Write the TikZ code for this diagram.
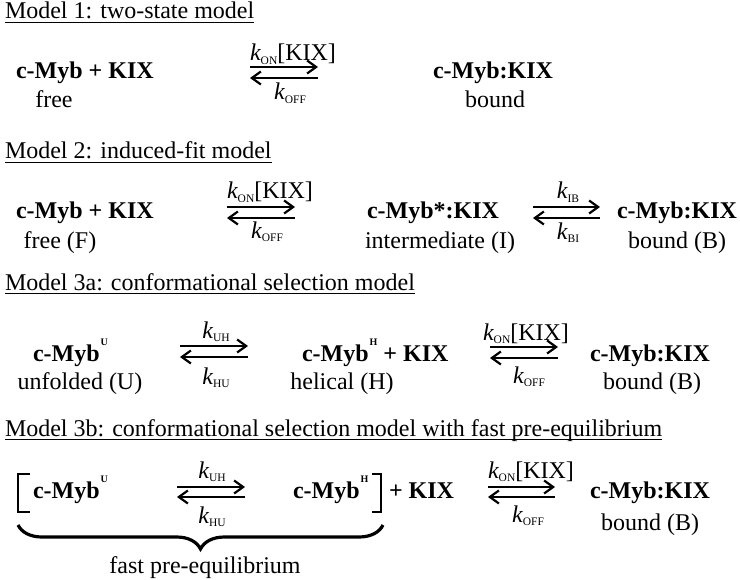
\documentclass[tikz,border=0pt]{standalone}
\usepackage{fontspec}
\setmainfont{Liberation Serif}
\usetikzlibrary{arrows.meta,decorations.pathreplacing}
\newcommand\kk[1]{\textit{k}\kern-0.3bp\raisebox{-3.5bp}{\fontsize{11.5bp}{11.5bp}\selectfont #1}}
\newcommand\sups[1]{\kern1bp\raisebox{15.5bp}{\fontsize{10bp}{10bp}\selectfont\bfseries #1}}
\begin{document}
\begin{tikzpicture}[x=1bp,y=1bp,
  every node/.style={inner sep=0pt,outer sep=0pt,font=\fontsize{24bp}{28bp}\selectfont},
  sp/.style={anchor=base west,font=\fontsize{24bp}{28bp}\selectfont\bfseries},
  st/.style={anchor=base},
  ttl/.style={anchor=base west},
  labw/.style={anchor=base west},
  labc/.style={anchor=base},
  rxn/.style={line width=2.2bp,-{Straight Barb[length=9bp,width=13bp]}},
  uline/.style={line width=1.3bp},
  brk/.style={line width=2.5bp,line join=miter}]
\useasboundingbox (0,0) rectangle (740,-580);

% ---------- Model 1 ----------
\node[ttl] (t1) at (5,-19) {Model 1: two-state model};
\node[sp] (m1a) at (16,-79) {c-Myb + KIX};
\node[st] (m1af) at (54,-108) {free};
\coordinate (m1l) at (250,-67);
\coordinate (m1r) at (318,-67);
\coordinate (m1lb) at (250,-78);
\coordinate (m1rb) at (318,-78);
\draw[rxn] (m1l) -- (m1r);
\draw[rxn] (m1rb) -- (m1lb);
\node[labw] (m1k1) at (250,-61) {\kk{ON}[KIX]};
\node[labc] (m1k2) at (290,-100) {\kk{OFF}};
\node[sp] (m1b) at (433,-79) {c-Myb:KIX};
\node[st] (m1bf) at (495,-108) {bound};

% ---------- Model 2 ----------
\node[ttl] (t2) at (5,-159) {Model 2: induced-fit model};
\node[sp] (m2a) at (16,-219) {c-Myb + KIX};
\node[st] (m2af) at (60,-248) {free (F)};
\coordinate (m2l) at (227,-207);
\coordinate (m2r) at (295,-207);
\coordinate (m2lb) at (227,-218);
\coordinate (m2rb) at (295,-218);
\draw[rxn] (m2l) -- (m2r);
\draw[rxn] (m2rb) -- (m2lb);
\node[labw] (m2k1) at (227,-199) {\kk{ON}[KIX]};
\node[labc] (m2k2) at (267,-238) {\kk{OFF}};
\node[sp] (m2b) at (367,-219) {c-Myb*:KIX};
\node[st] (m2bf) at (440,-248) {intermediate (I)};
\coordinate (m2l2) at (533,-207);
\coordinate (m2r2) at (600,-207);
\coordinate (m2lb2) at (533,-218);
\coordinate (m2rb2) at (600,-218);
\draw[rxn] (m2l2) -- (m2r2);
\draw[rxn] (m2rb2) -- (m2lb2);
\node[labc] (m2k3) at (568,-199) {\kk{IB}};
\node[labc] (m2k4) at (568,-239) {\kk{BI}};
\node[sp] (m2c) at (617,-219) {c-Myb:KIX};
\node[st] (m2cf) at (677,-248) {bound (B)};

% ---------- Model 3a ----------
\node[ttl] (t3) at (5,-290) {Model 3a: conformational selection model};
\node[sp] (m3a) at (33,-361) {c-Myb\sups{U}};
\node[st] (m3af) at (80,-389) {unfolded (U)};
\coordinate (m3l) at (180,-346);
\coordinate (m3r) at (248,-346);
\coordinate (m3lb) at (180,-357);
\coordinate (m3rb) at (248,-357);
\draw[rxn] (m3l) -- (m3r);
\draw[rxn] (m3rb) -- (m3lb);
\node[labc] (m3k1) at (216,-338) {\kk{UH}};
\node[labc] (m3k2) at (216,-384) {\kk{HU}};
\node[sp] (m3b) at (302,-361) {c-Myb\sups{H} + KIX};
\node[st] (m3bf) at (342,-389) {helical (H)};
\coordinate (m3l2) at (490,-347);
\coordinate (m3r2) at (558,-347);
\coordinate (m3lb2) at (490,-358);
\coordinate (m3rb2) at (558,-358);
\draw[rxn] (m3l2) -- (m3r2);
\draw[rxn] (m3rb2) -- (m3lb2);
\node[labw] (m3k3) at (483,-340) {\kk{ON}[KIX]};
\node[labc] (m3k4) at (529,-383) {\kk{OFF}};
\node[sp] (m3c) at (590,-361) {c-Myb:KIX};
\node[st] (m3cf) at (652,-389) {bound (B)};

% ---------- Model 3b ----------
\node[ttl] (t4) at (5,-436) {Model 3b: conformational selection model with fast pre-equilibrium};
\draw[brk] (30,-474) -- (18,-474) -- (18,-512) -- (30,-512);
\node[sp] (m4a) at (33,-498) {c-Myb\sups{U}};
\coordinate (m4l) at (177,-487);
\coordinate (m4r) at (245,-487);
\coordinate (m4lb) at (177,-497);
\coordinate (m4rb) at (245,-497);
\draw[rxn] (m4l) -- (m4r);
\draw[rxn] (m4rb) -- (m4lb);
\node[labc] (m4k1) at (212,-478) {\kk{UH}};
\node[labc] (m4k2) at (212,-523) {\kk{HU}};
\node[sp] (m4b) at (293,-498) {c-Myb\sups{H}};
\draw[brk] (372,-474) -- (381,-474) -- (381,-512) -- (372,-512);
\node[sp] (m4c) at (389,-498) {+ KIX};
\coordinate (m4l2) at (488,-487);
\coordinate (m4r2) at (555,-487);
\coordinate (m4lb2) at (488,-497);
\coordinate (m4rb2) at (555,-497);
\draw[rxn] (m4l2) -- (m4r2);
\draw[rxn] (m4rb2) -- (m4lb2);
\node[labw] (m4k3) at (488,-478) {\kk{ON}[KIX]};
\node[labc] (m4k4) at (528,-522) {\kk{OFF}};
\node[sp] (m4d) at (590,-498) {c-Myb:KIX};
\node[st] (m4df) at (650,-530) {bound (B)};
\coordinate (brl) at (18,-525);
\coordinate (brr) at (383,-525);
\draw[line width=3.2bp,decorate,decoration={brace,mirror,amplitude=24bp}] (brl) -- (brr);
\node[st] (m4e) at (205,-573) {fast pre-equilibrium};

\foreach \t in {t1,t2,t3,t4}
  \draw[uline] ([yshift=-3.5bp]\t.base west) -- ([yshift=-3.5bp]\t.base east);
\end{tikzpicture}
\end{document}
